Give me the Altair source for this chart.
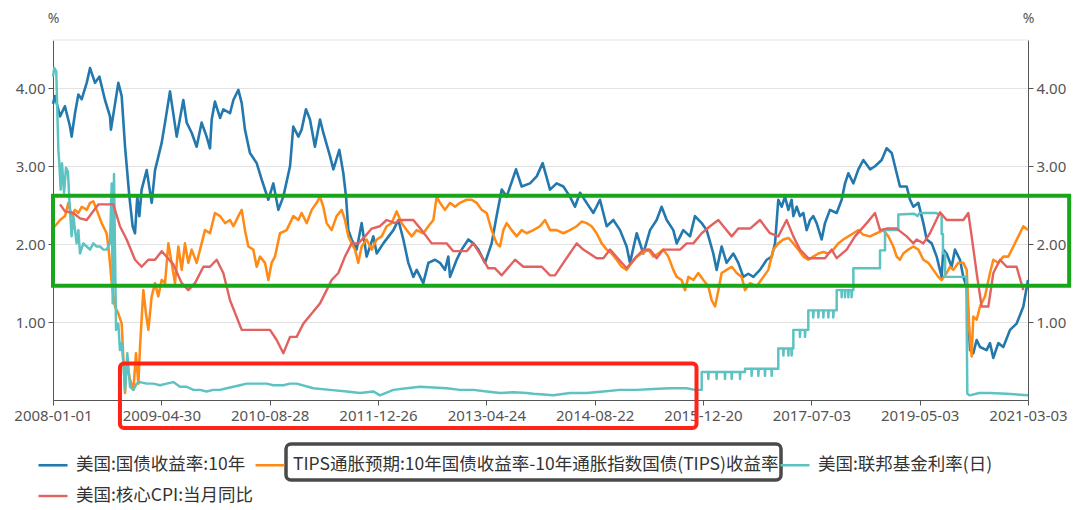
import altair as alt
import pandas as pd

X_LABELS = ["2008-01-01", "2009-04-30", "2010-08-28", "2011-12-26", "2013-04-24",
            "2014-08-22", "2015-12-20", "2017-07-03", "2019-05-03", "2021-03-03"]

SERIES = ["美国:国债收益率:10年",
          "TIPS通胀预期:10年国债收益率-10年通胀指数国债(TIPS)收益率",
          "美国:联邦基金利率(日)",
          "美国:核心CPI:当月同比"]
COLORS = ["#2378ad", "#ff8a15", "#5cc2c2", "#e2625f"]

# x position is measured in label intervals (0 = 2008-01-01 ... 9 = 2021-03-03)
BLUE = [(0.0,3.80),(0.018,3.90),(0.065,3.64),(0.11,3.77),(0.157,3.51),(0.172,3.38),(0.203,3.68),(0.234,3.92),
        (0.265,3.86),(0.311,4.07),(0.342,4.26),(0.388,4.07),(0.428,4.15),(0.48,3.85),(0.526,3.64),(0.535,3.47),
        (0.603,4.07),(0.634,3.90),(0.665,3.25),(0.705,2.61),(0.735,2.23),(0.757,2.14),(0.778,2.61),(0.797,2.36),
        (0.818,2.70),(0.865,2.95),(0.911,2.53),(0.942,2.95),(1.003,3.30),(1.034,3.56),(1.08,3.96),(1.142,3.38),
        (1.203,3.85),(1.234,3.56),(1.28,3.43),(1.326,3.25),(1.372,3.56),(1.418,3.38),(1.449,3.23),(1.465,3.60),
        (1.495,3.83),(1.542,3.62),(1.572,3.73),(1.634,3.68),(1.665,3.85),(1.711,3.98),(1.742,3.81),(1.772,3.47),
        (1.818,3.17),(1.88,3.04),(1.926,2.83),(1.988,2.57),(2.034,2.78),(2.08,2.44),(2.126,2.61),(2.188,3.0),
        (2.218,3.51),(2.265,3.38),(2.295,3.47),(2.335,3.73),(2.372,3.60),(2.418,3.25),(2.465,3.60),(2.495,3.43),
        (2.557,3.13),(2.588,2.96),(2.643,3.21),(2.68,2.91),(2.705,2.61),(2.726,2.18),(2.757,2.06),(2.803,1.93),
        (2.849,2.27),(2.895,1.84),(2.957,2.10),(2.988,1.88),(3.049,2.01),(3.142,2.18),(3.188,2.31),(3.234,2.06),
        (3.28,1.76),(3.326,1.58),(3.357,1.67),(3.418,1.50),(3.465,1.76),(3.526,1.80),(3.572,1.76),(3.618,1.67),
        (3.649,1.84),(3.665,1.58),(3.726,1.80),(3.772,1.93),(3.834,2.06),(3.88,2.01),(3.926,1.93),(3.988,1.76),
        (4.049,2.01),(4.095,2.36),(4.142,2.70),(4.188,2.61),(4.274,2.96),(4.326,2.74),(4.403,2.78),(4.465,2.87),
        (4.52,3.04),(4.588,2.70),(4.649,2.78),(4.711,2.74),(4.772,2.61),(4.818,2.48),(4.865,2.66),(4.926,2.53),
        (4.988,2.40),(5.049,2.57),(5.111,2.23),(5.172,2.31),(5.234,2.18),(5.295,1.97),(5.326,1.76),(5.388,2.14),
        (5.449,1.88),(5.511,2.18),(5.572,2.31),(5.618,2.48),(5.665,2.31),(5.726,2.18),(5.757,2.01),(5.818,2.18),
        (5.88,2.10),(5.926,2.36),(5.988,2.27),(6.034,2.18),(6.095,1.88),(6.126,1.67),(6.172,1.97),(6.218,1.76),
        (6.28,1.88),(6.326,1.76),(6.372,1.58),(6.418,1.62),(6.465,1.58),(6.526,1.67),(6.588,1.80),(6.634,1.84),
        (6.665,2.01),(6.695,2.57),(6.726,2.48),(6.757,2.61),(6.788,2.44),(6.818,2.57),(6.834,2.36),(6.865,2.48),
        (6.895,2.36),(6.926,2.40),(6.957,2.18),(6.988,2.31),(7.018,2.36),(7.049,2.27),(7.095,2.06),(7.126,2.27),
        (7.172,2.44),(7.234,2.40),(7.28,2.57),(7.311,2.78),(7.342,2.91),(7.388,2.78),(7.434,2.96),(7.48,3.08),
        (7.542,2.96),(7.588,3.00),(7.649,3.08),(7.695,3.23),(7.742,3.17),(7.772,3.0),(7.818,2.74),(7.88,2.74),
        (7.911,2.57),(7.942,2.48),(7.988,2.53),(8.034,2.27),(8.065,2.06),(8.111,2.01),(8.157,1.84),(8.203,1.58),
        (8.218,1.93),(8.249,1.88),(8.295,1.71),(8.326,1.93),(8.372,1.80),(8.403,1.58),(8.434,1.45),(8.465,0.64),
        (8.495,0.60),(8.526,0.77),(8.557,0.68),(8.618,0.64),(8.649,0.73),(8.68,0.54),(8.726,0.73),(8.772,0.68),
        (8.834,0.90),(8.895,0.98),(8.957,1.20),(9.0,1.54)]

ORANGE = [(0.0,2.25),(0.018,2.23),(0.065,2.31),(0.111,2.36),(0.142,2.53),(0.172,2.36),(0.203,2.44),(0.234,2.40),
          (0.265,2.48),(0.311,2.44),(0.342,2.53),(0.372,2.55),(0.403,2.44),(0.449,2.27),(0.495,2.14),(0.511,1.97),
          (0.526,1.76),(0.542,1.50),(0.572,1.20),(0.603,1.11),(0.634,0.98),(0.665,0.09),(0.68,0.47),(0.711,0.26),
          (0.742,0.13),(0.766,0.60),(0.788,0.21),(0.803,0.68),(0.834,1.41),(0.858,1.11),(0.88,0.90),(0.911,1.33),
          (0.942,1.50),(0.972,1.33),(1.003,1.54),(1.034,1.50),(1.065,2.01),(1.095,1.76),(1.126,1.50),(1.157,1.97),
          (1.188,1.67),(1.218,2.01),(1.249,1.76),(1.28,1.93),(1.326,1.76),(1.372,2.01),(1.403,2.18),(1.449,2.14),
          (1.495,2.40),(1.542,2.36),(1.588,2.27),(1.634,2.31),(1.665,2.23),(1.711,2.36),(1.742,2.44),(1.772,2.18),
          (1.803,1.97),(1.849,1.93),(1.88,1.71),(1.911,1.84),(1.957,1.76),(1.988,1.54),(2.018,1.76),(2.049,1.84),
          (2.095,2.14),(2.157,2.18),(2.218,2.36),(2.265,2.31),(2.295,2.40),(2.342,2.27),(2.388,2.44),(2.434,2.53),
          (2.465,2.61),(2.495,2.48),(2.526,2.27),(2.572,2.18),(2.618,2.36),(2.665,2.44),(2.695,2.31),(2.726,2.10),
          (2.757,2.01),(2.788,1.93),(2.818,1.76),(2.849,1.97),(2.895,2.06),(2.942,1.93),(2.988,2.06),(3.034,2.10),
          (3.08,2.23),(3.126,2.27),(3.172,2.42),(3.218,2.27),(3.265,2.18),(3.311,2.10),(3.357,2.18),(3.418,2.14),
          (3.465,2.23),(3.511,2.31),(3.542,2.61),(3.572,2.53),(3.618,2.44),(3.665,2.53),(3.711,2.48),(3.757,2.53),
          (3.818,2.57),(3.865,2.57),(3.911,2.53),(3.957,2.44),(4.003,2.40),(4.049,2.18),(4.095,2.01),(4.126,1.97),
          (4.157,2.18),(4.188,2.27),(4.234,2.18),(4.28,2.10),(4.326,2.18),(4.372,2.14),(4.434,2.18),(4.495,2.23),
          (4.542,2.31),(4.588,2.18),(4.649,2.18),(4.711,2.14),(4.772,2.18),(4.834,2.23),(4.88,2.29),(4.926,2.27),
          (4.972,2.23),(5.018,2.14),(5.065,2.01),(5.111,1.93),(5.157,1.88),(5.203,1.80),(5.249,1.71),(5.295,1.67),
          (5.342,1.76),(5.388,1.84),(5.434,1.88),(5.495,1.93),(5.542,1.84),(5.588,1.88),(5.634,1.93),(5.68,1.84),
          (5.726,1.67),(5.757,1.58),(5.803,1.54),(5.834,1.41),(5.865,1.58),(5.911,1.54),(5.957,1.63),(6.003,1.54),
          (6.049,1.46),(6.08,1.28),(6.111,1.20),(6.142,1.41),(6.172,1.63),(6.218,1.67),(6.265,1.71),(6.311,1.63),
          (6.357,1.58),(6.388,1.41),(6.434,1.50),(6.495,1.46),(6.557,1.58),(6.603,1.67),(6.649,1.93),(6.695,2.01),
          (6.742,2.06),(6.788,2.08),(6.834,2.01),(6.88,1.93),(6.926,1.84),(6.972,1.80),(7.018,1.84),(7.065,1.88),
          (7.111,1.90),(7.157,1.88),(7.203,1.93),(7.249,2.01),(7.295,2.06),(7.342,2.10),(7.388,2.14),(7.434,2.18),
          (7.48,2.12),(7.542,2.10),(7.603,2.14),(7.665,2.18),(7.711,2.10),(7.757,1.97),(7.788,1.84),(7.818,1.80),
          (7.849,1.88),(7.895,1.93),(7.942,1.97),(7.988,1.93),(8.034,1.80),(8.08,1.76),(8.126,1.67),(8.172,1.58),
          (8.203,1.54),(8.249,1.63),(8.28,1.71),(8.311,1.67),(8.357,1.76),(8.403,1.76),(8.434,1.67),(8.458,0.90),
          (8.48,0.56),(8.495,1.07),(8.526,1.03),(8.557,1.20),(8.603,1.33),(8.649,1.63),(8.68,1.80),(8.726,1.76),
          (8.772,1.84),(8.818,1.84),(8.865,1.97),(8.911,2.10),(8.957,2.23),(9.0,2.18)]

TEAL = [(0.0,4.15),(0.012,4.26),(0.03,4.22),(0.05,3.20),(0.058,3.04),(0.071,2.70),(0.083,3.04),(0.102,2.66),
        (0.12,2.98),(0.138,2.93),(0.151,2.57),(0.172,2.10),(0.188,2.36),(0.218,2.01),(0.234,2.18),(0.249,1.88),
        (0.28,2.01),(0.311,1.97),(0.342,1.93),(0.372,2.01),(0.403,1.97),(0.434,1.97),(0.465,1.93),(0.495,1.93),
        (0.526,2.01),(0.542,2.78),(0.551,1.24),(0.563,2.90),(0.582,0.90),(0.603,0.98),(0.618,0.64),(0.634,0.73),
        (0.649,0.47),(0.665,0.13),(0.686,0.60),(0.711,0.17),(0.742,0.13),(0.772,0.21),(0.803,0.23),(0.865,0.21),
        (0.926,0.21),(0.988,0.19),(1.049,0.21),(1.111,0.23),(1.172,0.17),(1.234,0.17),(1.295,0.13),(1.357,0.13),
        (1.418,0.11),(1.48,0.13),(1.542,0.13),(1.603,0.15),(1.665,0.17),(1.726,0.19),(1.788,0.21),(1.88,0.21),
        (1.972,0.21),(2.034,0.19),(2.126,0.19),(2.188,0.21),(2.249,0.21),(2.403,0.15),(2.557,0.13),(2.711,0.11),
        (2.834,0.09),(2.957,0.11),(3.018,0.06),(3.142,0.13),(3.265,0.15),(3.388,0.17),(3.511,0.16),(3.634,0.15),
        (3.757,0.13),(3.88,0.13),(4.003,0.11),(4.126,0.09),(4.249,0.10),(4.372,0.09),(4.434,0.08),(4.618,0.06),
        (4.772,0.09),(4.926,0.09),(5.08,0.11),(5.234,0.13),(5.388,0.13),(5.542,0.14),(5.695,0.15),(5.849,0.15),
        (5.926,0.13),(5.988,0.13),(5.988,0.36),
        (6.047,0.36),(6.049,0.27),(6.052,0.36),(6.124,0.36),(6.126,0.27),(6.129,0.36),(6.201,0.36),(6.203,0.27),
        (6.206,0.36),(6.263,0.36),(6.265,0.27),(6.268,0.36),(6.340,0.36),(6.342,0.27),(6.345,0.36),
        (6.388,0.36),(6.388,0.40),
        (6.447,0.40),(6.449,0.31),(6.452,0.40),(6.509,0.40),(6.511,0.31),(6.514,0.40),(6.570,0.40),(6.572,0.31),
        (6.575,0.40),(6.632,0.40),(6.634,0.31),(6.637,0.40),
        (6.695,0.40),(6.695,0.66),
        (6.740,0.66),(6.742,0.57),(6.745,0.66),(6.786,0.66),(6.788,0.57),(6.791,0.66),(6.816,0.66),(6.818,0.57),
        (6.821,0.66),
        (6.834,0.66),(6.834,0.90),
        (6.893,0.90),(6.895,0.81),(6.898,0.90),(6.940,0.90),(6.942,0.81),(6.945,0.90),
        (6.972,0.90),(6.972,1.15),
        (7.016,1.15),(7.018,1.06),(7.021,1.15),(7.063,1.15),(7.065,1.06),(7.068,1.15),(7.109,1.15),(7.111,1.06),
        (7.114,1.15),(7.155,1.15),(7.157,1.06),(7.160,1.15),(7.201,1.15),(7.203,1.06),(7.206,1.15),
        (7.234,1.15),(7.234,1.41),
        (7.278,1.41),(7.280,1.32),(7.283,1.41),(7.309,1.41),(7.311,1.32),(7.314,1.41),(7.340,1.41),(7.342,1.32),
        (7.345,1.41),(7.370,1.41),(7.372,1.32),(7.375,1.41),
        (7.388,1.41),(7.388,1.69),(7.634,1.69),(7.634,1.92),(7.68,1.92),(7.68,2.18),(7.803,2.18),(7.803,2.38),
        (7.95,2.39),(7.98,2.36),(8.0,2.40),(8.15,2.40),(8.18,2.38),(8.203,2.38),(8.203,2.13),(8.215,2.13),
        (8.215,1.88),(8.235,1.88),(8.235,1.58),(8.43,1.58),(8.44,0.08),(8.46,0.06),(8.55,0.09),(8.65,0.09),
        (8.8,0.08),(9.0,0.06)]

RED = [(0.065,2.51),(0.111,2.42),(0.188,2.40),(0.249,2.33),(0.311,2.31),(0.418,2.51),(0.557,2.51),(0.618,2.23),
       (0.68,2.06),(0.757,1.80),(0.818,1.71),(0.88,1.80),(0.942,1.80),(1.003,1.91),(1.111,1.74),(1.188,1.50),
       (1.249,1.41),(1.311,1.50),(1.388,1.71),(1.449,1.71),(1.511,1.80),(1.572,1.63),(1.634,1.28),(1.742,0.90),
       (2.003,0.90),(2.065,0.77),(2.126,0.60),(2.188,0.81),(2.249,0.81),(2.311,0.98),(2.388,1.11),(2.465,1.24),
       (2.526,1.41),(2.572,1.54),(2.634,1.63),(2.695,1.84),(2.757,2.01),(2.818,2.01),(2.88,2.10),(2.942,2.20),
       (3.018,2.23),(3.08,2.31),(3.157,2.27),(3.203,2.31),(3.326,2.31),(3.403,2.18),(3.495,2.01),(3.557,2.01),
       (3.634,2.01),(3.695,1.91),(3.818,1.91),(3.88,2.01),(3.957,1.84),(4.018,1.69),(4.08,1.69),(4.142,1.60),
       (4.265,1.80),(4.342,1.71),(4.403,1.71),(4.511,1.71),(4.588,1.60),(4.634,1.60),(4.711,1.76),(4.834,2.01),
       (4.895,1.93),(5.018,1.82),(5.08,1.82),(5.142,1.93),(5.295,1.69),(5.372,1.82),(5.449,1.93),(5.511,1.93),
       (5.572,1.82),(5.634,1.93),(5.788,1.93),(5.849,2.01),(5.911,2.01),(5.988,2.14),(6.065,2.23),(6.142,2.31),
       (6.188,2.23),(6.265,2.10),(6.326,2.20),(6.434,2.20),(6.526,2.31),(6.618,2.14),(6.695,2.10),(6.772,2.31),
       (6.834,2.10),(6.895,1.93),(6.972,1.82),(7.126,1.82),(7.188,1.93),(7.234,1.82),(7.326,1.93),(7.403,2.10),
       (7.511,2.27),(7.588,2.40),(7.634,2.18),(7.695,2.20),(7.788,2.20),(7.88,2.10),(7.942,2.01),(7.972,2.06),
       (8.034,2.01),(8.095,2.14),(8.188,2.41),(8.249,2.31),(8.342,2.31),(8.403,2.31),(8.449,2.40),(8.48,2.10),
       (8.526,1.63),(8.572,1.20),(8.634,1.20),(8.68,1.63),(8.742,1.80),(8.803,1.71),(8.895,1.71),(8.957,1.41)]

# highlight boxes (x in label intervals, y in %)
GREEN_BOX = dict(u1=0.0, u2=9.38, v1=1.465, v2=2.62)
RED_BOX = dict(u1=0.618, u2=5.94, v1=-0.36, v2=0.47)
Y_MAX = 4.62

rows = []
for name, pts in zip(SERIES, [BLUE, ORANGE, TEAL, RED]):
    for k, (u, v) in enumerate(pts):
        rows.append({"series": name, "i": k, "u": u, "v": v})
df = pd.DataFrame(rows)

W, H = 975, 360
FONT = "Noto Sans CJK SC"

x_scale = alt.Scale(domain=[0, 9], nice=False, zero=False)
y_scale = alt.Scale(domain=[0, Y_MAX], nice=False, zero=True)
label_expr = "[" + ",".join("'" + s + "'" for s in X_LABELS) + "][datum.value]"
x_axis = alt.Axis(values=list(range(10)), labelExpr=label_expr, grid=False, title=None,
                  domainColor="#555", tickColor="#555", tickSize=5, labelColor="#555",
                  labelFont="Noto Sans", labelFontSize=15, labelPadding=3,
                  labelOverlap=False, labelFlush=False)


def y_axis(orient, grid):
    return alt.Axis(orient=orient, values=[1, 2, 3, 4], format=".2f", grid=grid,
                    gridColor="#e3e3e3", gridWidth=1, domainColor="#555", tickColor="#555",
                    tickSize=5, labelColor="#555", labelFont="Noto Sans", labelFontSize=15,
                    labelPadding=3, title="%", titleAngle=0, titleX=0, titleY=-22,
                    titleAlign="center", titleBaseline="middle", titleFont="Noto Sans",
                    titleFontSize=14, titleFontWeight="normal", titleColor="#555")


lines = alt.Chart(df).mark_line(strokeJoin="round").encode(
    x=alt.X("u:Q", scale=x_scale, axis=x_axis),
    y=alt.Y("v:Q", scale=y_scale, axis=y_axis("left", True)),
    color=alt.Color("series:N", scale=alt.Scale(domain=SERIES, range=COLORS),
                    legend=alt.Legend(orient="none", legendX=-16, legendY=409, columns=3,
                                      direction="horizontal", title=None,
                                      symbolType="stroke", symbolSize=841, symbolStrokeWidth=3,
                                      labelFont=FONT, labelFontSize=17.5, labelColor="#333",
                                      labelLimit=700, labelOffset=7, columnPadding=-7,
                                      rowPadding=6)),
    strokeWidth=alt.StrokeWidth("series:N", scale=alt.Scale(domain=SERIES, range=[2.6, 2.4, 2.2, 2.0]),
                                legend=None),
    order=alt.Order("i:Q"),
)

top_rule = alt.Chart(pd.DataFrame({"v": [Y_MAX]})).mark_rule(color="#e3e3e3", strokeWidth=1).encode(
    y=alt.Y("v:Q", scale=y_scale, axis=y_axis("right", False)),
)

green_box = alt.Chart(pd.DataFrame([GREEN_BOX])).mark_rect(
    fillOpacity=0, strokeWidth=4, stroke="#1aa61a"
).encode(
    x=alt.X("u1:Q", scale=x_scale, axis=x_axis), x2="u2:Q",
    y=alt.Y("v1:Q", scale=y_scale, axis=None), y2="v2:Q",
)

red_box = alt.Chart(pd.DataFrame([RED_BOX])).mark_rect(
    fillOpacity=0, strokeWidth=4, stroke="#ff2318", cornerRadius=4
).encode(
    x=alt.X("u1:Q", scale=x_scale, axis=x_axis), x2="u2:Q",
    y=alt.Y("v1:Q", scale=y_scale, axis=None), y2="v2:Q",
)

legend_box = alt.Chart(pd.DataFrame({"a": [0]})).mark_rect(
    fillOpacity=0, stroke="#4a4a4a", strokeWidth=3.5, cornerRadius=5
).encode(x=alt.value(233), x2=alt.value(728), y=alt.value(404), y2=alt.value(440))

chart = alt.layer(lines, green_box, red_box, top_rule, legend_box).resolve_scale(y="shared").resolve_axis(
    y="independent"
).properties(
    width=W, height=H,
    autosize=alt.AutoSizeParams(type="none"),
    padding={"left": 45, "top": 32, "right": 44, "bottom": 110},
    background="white",
).configure_view(stroke=None)

chart.save("out.html", embed_options={"renderer": "svg", "actions": False})
